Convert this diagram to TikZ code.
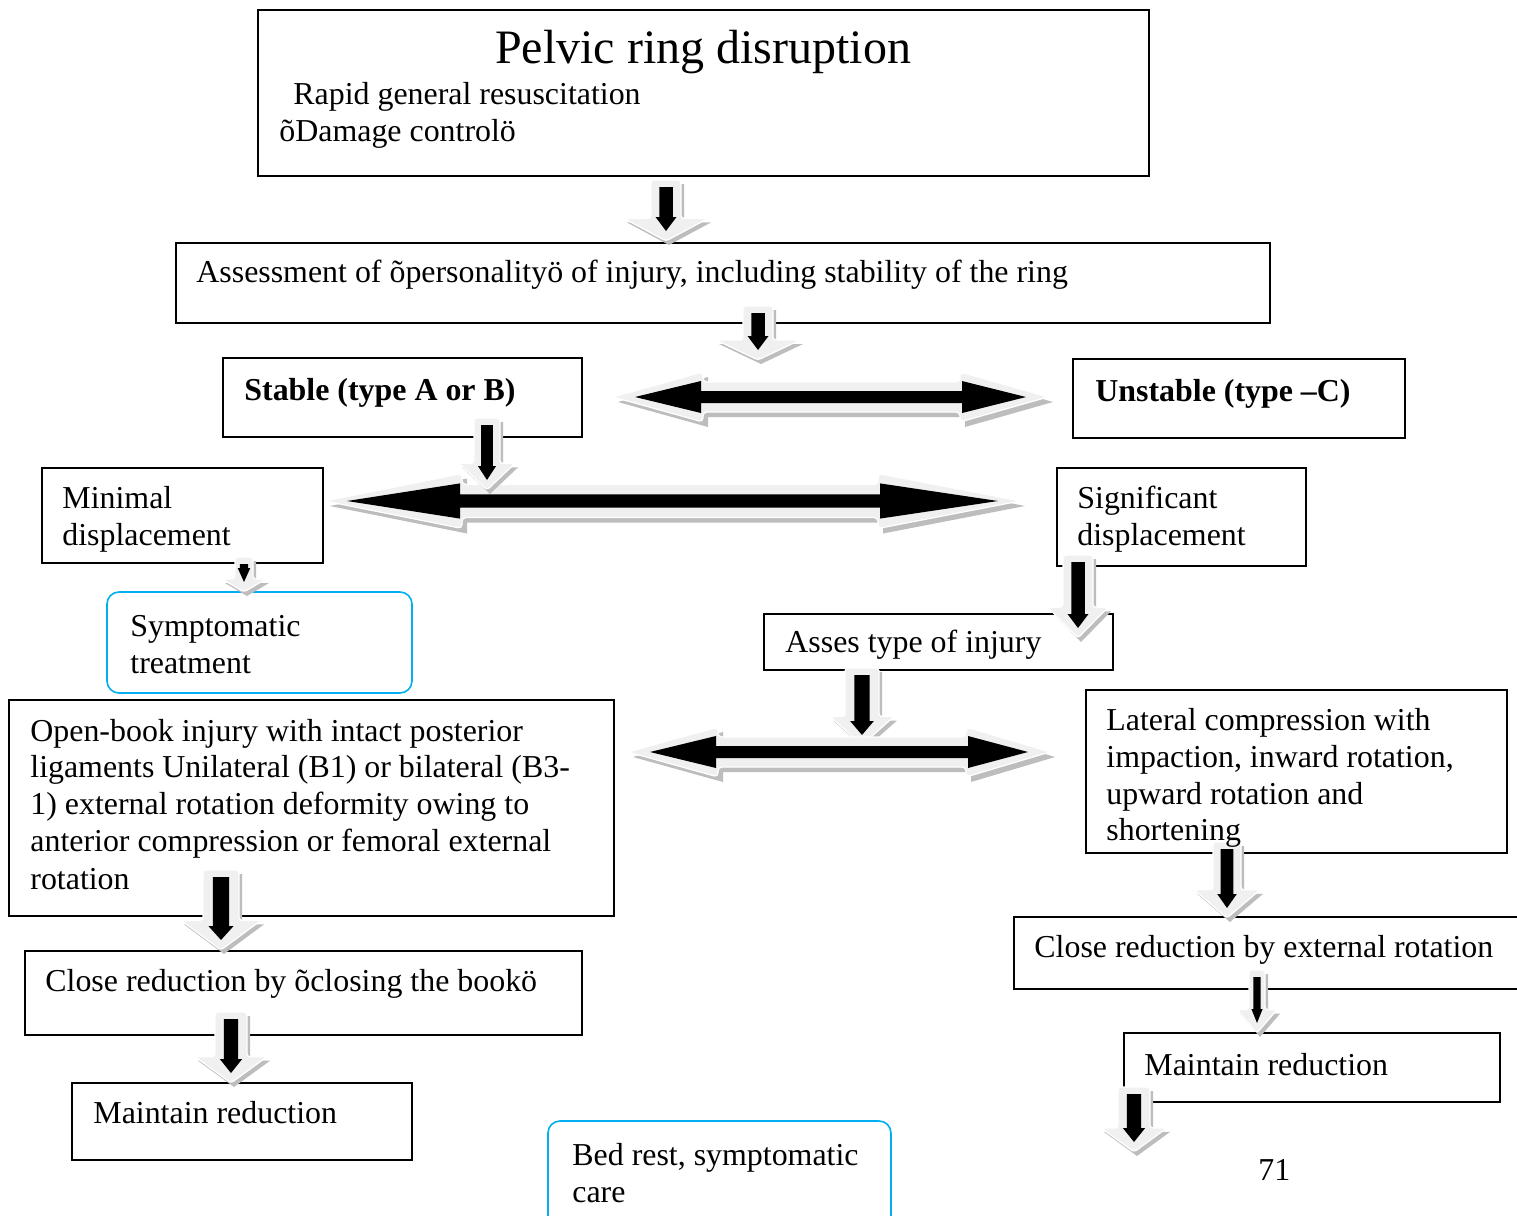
\documentclass[tikz,border=0pt]{standalone}
\usepackage{fontspec}
\setmainfont{Liberation Serif}
\usetikzlibrary{fit}
\definecolor{cyanb}{HTML}{00B0F0}
\definecolor{arrlight}{HTML}{F0F0F0}
\definecolor{arrshade}{HTML}{BDBDBD}
\newcommand\dnarrow[5]{%
  \pgfmathsetmacro\hbv{#3-0.37*(#3-#2)}%
  \pgfmathsetmacro\bsv{0.45*#4}%
  \pgfmathsetmacro\bhv{0.7*#4}%
  \pgfmathsetmacro\btv{#2+7}%
  \pgfmathsetmacro\btipv{#3-10}%
  \pgfmathsetmacro\bhbv{#3-24}%
  \begin{scope}[shift={(3,4)}]
    \fill[arrshade] ({#1-#4},{#2}) -- ({#1+#4},{#2}) -- ({#1+#4},\hbv) -- ({#1+#5},\hbv) -- ({#1},{#3}) -- ({#1-#5},\hbv) -- ({#1-#4},\hbv) -- cycle;
  \end{scope}
  \filldraw[fill=arrlight,draw=white,line width=0.6pt,rounded corners=1.5pt] ({#1-#4},{#2}) -- ({#1+#4},{#2}) -- ({#1+#4},\hbv) -- ({#1+#5},\hbv) -- ({#1},{#3}) -- ({#1-#5},\hbv) -- ({#1-#4},\hbv) -- cycle;
  \fill[black] ({#1-\bsv},\btv) -- ({#1+\bsv},\btv) -- ({#1+\bsv},\bhbv) -- ({#1+\bhv},\bhbv) -- ({#1},\btipv) -- ({#1-\bhv},\bhbv) -- ({#1-\bsv},\bhbv) -- cycle;
}
% xL xR cy hbL hbR factor
\newcommand\dblarrow[6]{%
  \pgfmathsetmacro\oh{25*#6}\pgfmathsetmacro\os{15*#6}%
  \pgfmathsetmacro\ih{16*#6}\pgfmathsetmacro\is{6*#6}%
  \pgfmathsetmacro\itl{#1+22}\pgfmathsetmacro\itr{#2-22}%
  \begin{scope}[shift={(5,5)}]
    \fill[arrshade] (#1,#3) -- (#4,{#3-\oh}) -- (#4,{#3-\os}) -- (#5,{#3-\os}) -- (#5,{#3-\oh}) -- (#2,#3) -- (#5,{#3+\oh}) -- (#5,{#3+\os}) -- (#4,{#3+\os}) -- (#4,{#3+\oh}) -- cycle;
  \end{scope}
  \filldraw[fill=arrlight,draw=white,line width=0.6pt,rounded corners=2pt] (#1,#3) -- (#4,{#3-\oh}) -- (#4,{#3-\os}) -- (#5,{#3-\os}) -- (#5,{#3-\oh}) -- (#2,#3) -- (#5,{#3+\oh}) -- (#5,{#3+\os}) -- (#4,{#3+\os}) -- (#4,{#3+\oh}) -- cycle;
  \fill[black] (\itl,#3) -- ({#4-2},{#3-\ih}) -- ({#4-2},{#3-\is}) -- ({#5+2},{#3-\is}) -- ({#5+2},{#3-\ih}) -- (\itr,#3) -- ({#5+2},{#3+\ih}) -- ({#5+2},{#3+\is}) -- ({#4-2},{#3+\is}) -- ({#4-2},{#3+\ih}) -- cycle;
}
\begin{document}
\begin{tikzpicture}[x=0.5pt,y=-0.5pt,
  box/.style={draw=black,line width=0.8pt,inner sep=0pt},
  rbox/.style={draw=cyanb,line width=0.8pt,rounded corners=6pt,inner sep=0pt},
  txt/.style={anchor=base west,inner sep=0pt,font=\fontsize{15.95}{18.5}\selectfont},
  ]
\useasboundingbox[fill=white] (0,0) rectangle (1517,1216);
% boxes
\node[box,fit={(258,10) (1149,176)}] (title) {};
\node[box,fit={(176,243) (1270,323)}] (assess) {};
\node[box,fit={(223,358) (582,437)}] (stable) {};
\node[box,fit={(1073,359) (1405,438)}] (unstable) {};
\node[box,fit={(42,468) (323,563)}] (minimal) {};
\node[box,fit={(1057,468) (1306,566)}] (signif) {};
\node[rbox,fit={(107,592) (412,693)}] (sympt) {};
\node[box,fit={(764,614) (1113,670)}] (asses) {};
\node[box,fit={(9,700) (614,916)}] (openbook) {};
\node[box,fit={(1086,690) (1507,853)}] (lateral) {};
\node[box,fit={(25,951) (582,1035)}] (closebook) {};
\node[box,fit={(1014,917) (1530,989)}] (closeext) {};
\node[box,fit={(72,1083) (412,1160)}] (maintl) {};
\node[box,fit={(1124,1033) (1500,1102)}] (maintr) {};
\node[rbox,fit={(548,1121) (891,1240)}] (bedrest) {};
% arrows
\dnarrow{666}{180}{241}{15}{42}
\dnarrow{758}{306}{360}{15}{42}
\dblarrow{613}{1048}{397}{703}{960}{1}
\dblarrow{325}{1020}{501}{462}{878}{1.1}
\dnarrow{487}{418}{490}{13}{28}
\dnarrow{244}{557}{592}{9}{22}
\dnarrow{1078}{555}{638}{15}{30}
\dnarrow{862}{668}{745}{17}{32}
\dblarrow{628}{1050}{752}{718}{966}{1}
\dnarrow{221}{870}{950}{18}{40}
\dnarrow{1227}{842}{918}{14}{33}
\dnarrow{231}{1012}{1083}{16}{36}
\dnarrow{1257}{970}{1033}{8}{20}
\dnarrow{1134}{1087}{1152}{16}{33}
% texts
\node[anchor=base,inner sep=0pt,font=\fontsize{24}{28}\selectfont] (t0) at (703,63) {Pelvic ring disruption};
\node[txt] (t1) at (293,104) {Rapid general resuscitation};
\node[txt] (t2) at (279,141) {õDamage controlö};
\node[txt] (t3) at (196,282) {Assessment of õpersonalityö of injury, including stability of the ring};
\node[txt,font=\fontsize{15.95}{18.5}\selectfont\bfseries] (t4) at (244,400) {Stable (type A or B)};
\node[txt,font=\fontsize{15.95}{18.5}\selectfont\bfseries] (t5) at (1095,401) {Unstable (type –C)};
\node[txt] (t6) at (62,508) {Minimal};
\node[txt] (t7) at (62,545) {displacement};
\node[txt] (t8) at (1077,508) {Significant};
\node[txt] (t9) at (1077,545) {displacement};
\node[txt] (t10) at (130,636) {Symptomatic};
\node[txt] (t11) at (130,673) {treatment};
\node[txt] (t12) at (785,652) {Asses type of injury};
\node[txt] (t13) at (30,741) {Open-book injury with intact posterior};
\node[txt] (t14) at (30,777) {ligaments Unilateral (B1) or bilateral (B3-};
\node[txt] (t15) at (30,814) {1) external rotation deformity owing to};
\node[txt] (t16) at (30,851) {anterior compression or femoral external};
\node[txt] (t17) at (30,889) {rotation};
\node[txt] (t18) at (1106,730) {Lateral compression with};
\node[txt] (t19) at (1106,767) {impaction, inward rotation,};
\node[txt] (t20) at (1106,804) {upward rotation and};
\node[txt] (t21) at (1106,840) {shortening};
\node[txt] (t22) at (45,991) {Close reduction by õclosing the bookö};
\node[txt] (t23) at (1034,957) {Close reduction by external rotation};
\node[txt] (t24) at (93,1123) {Maintain reduction};
\node[txt] (t25) at (1144,1075) {Maintain reduction};
\node[txt] (t26) at (572,1165) {Bed rest, symptomatic};
\node[txt] (t27) at (572,1202) {care};
\node[txt] (t28) at (1258,1180) {71};
\end{tikzpicture}
\end{document}
